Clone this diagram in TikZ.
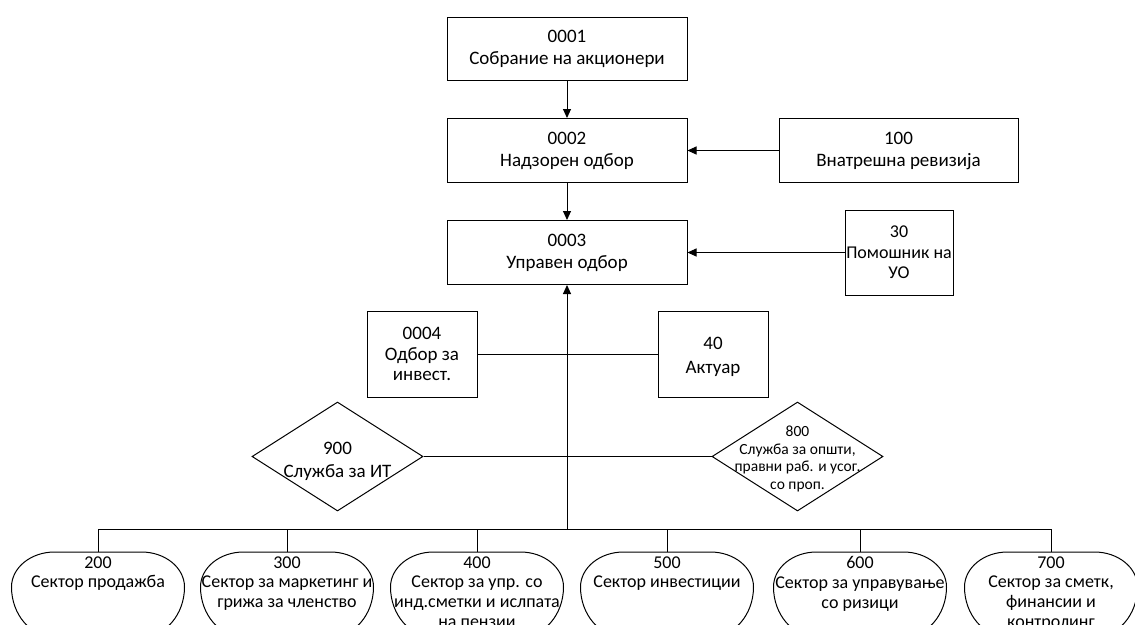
\documentclass[tikz,border=0pt]{standalone}
\usepackage{fontspec}
\setmainfont{Carlito}
\usetikzlibrary{arrows.meta,shapes.geometric}
\begin{document}
\begin{tikzpicture}[x=1pt,y=-1pt,line width=1pt,
  box/.style={draw,line width=1pt,align=center,inner sep=0pt,font=\fontsize{19}{22}\selectfont},
  dia/.style={draw,line width=1pt,diamond,inner sep=0pt,minimum width=171,minimum height=109},
  stad/.style={rectangle,minimum width=173,minimum height=85,inner sep=0pt,outer sep=0pt},
  stadline/.style={line width=1pt},
  stext/.style={align=center,inner sep=0pt,anchor=north,yshift=-4pt,font=\fontsize{18}{19.8}\selectfont},
  arr/.style={-{Triangle[length=9pt,width=8pt]}}]
\useasboundingbox (0,0) rectangle (1135,624);
\clip (0,0) rectangle (1135,624);

\node[box,minimum width=240,minimum height=63] (n1) at (567,48.5) {0001\\Собрание на акционери};
\node[box,minimum width=240,minimum height=64] (n2) at (567,150.5) {0002\\Надзорен одбор};
\node[box,minimum width=240,minimum height=64] (n3) at (567,252.5) {0003\\Управен одбор};
\node[box,minimum width=239,minimum height=64] (n100) at (898.5,150.5) {100\\Внатрешна ревизија};
\node[box,minimum width=108,minimum height=85,font=\fontsize{18}{20.5}\selectfont] (n30) at (899,252.5) {30\\Помошник на\\УО};
\node[box,minimum width=110,minimum height=86,font=\fontsize{19}{20.5}\selectfont] (n4) at (422,354) {0004\\Одбор за\\инвест.};
\node[box,minimum width=110,minimum height=86] (n40) at (713,354) {};
\node[align=center,inner sep=0pt,font=\fontsize{19}{24}\selectfont] (t40) at (713,357) {40\\Актуар};

\node[dia] (d900) at (337.5,456.5) {};
\node[align=center,inner sep=0pt,font=\fontsize{19}{23}\selectfont] (t900) at (337.5,461) {900\\Служба за ИТ};
\node[dia] (d800) at (797.5,456.5) {};
\node[align=center,inner sep=0pt,font=\fontsize{15.5}{17.5}\selectfont] (t800) at (797.5,459) {800\\Служба за општи,\\правни раб. и усог.\\со проп.};

\draw[arr] (n1) -- (n2);
\draw[arr] (n2) -- (n3);
\draw[arr] (n100) -- (n2);
\draw[arr] (n30) -- (n3);
\draw (n4) -- (n40);
\draw (d900.east) -- (d800.west);

\foreach \n/\x in {s200/98,s300/287,s400/477,s500/667,s600/860,s700/1051} {
  \node[stad] (\n) at (\x,594.5) {};
  \draw[stadline,shift={(\n.north)}]
    (-86.5,35) .. controls (-86.5,15.7) and (-67.2,0) .. (-43.5,0)
    -- (43.5,0) .. controls (67.2,0) and (86.5,15.7) .. (86.5,35)
    .. controls (86.5,62.6) and (67.2,85) .. (43.5,85)
    -- (-43.5,85) .. controls (-67.2,85) and (-86.5,62.6) .. (-86.5,35) -- cycle;
}
\node[stext] (t200) at (s200.north) {200\\Сектор продажба};
\node[stext] (t300) at (s300.north) {300\\Сектор за маркетинг и\\грижа за членство};
\node[stext] (t400) at (s400.north) {400\\Сектор за упр. со\\инд.сметки и ислпата\\на пензии};
\node[stext] (t500) at (s500.north) {500\\Сектор инвестиции};
\node[stext] (t600) at (s600.north) {600\\Сектор за управување\\со ризици};
\node[stext] (t700) at (s700.north) {700\\Сектор за сметк,\\финансии и\\контролинг};

\coordinate (bus) at (567,529);
\draw (s200.north |- bus) -- (s700.north |- bus);
\foreach \s in {s200,s300,s400,s500,s600,s700} \draw (\s.north |- bus) -- (\s.north);
\draw[arr] (bus) -- (n3);
\end{tikzpicture}
\end{document}
